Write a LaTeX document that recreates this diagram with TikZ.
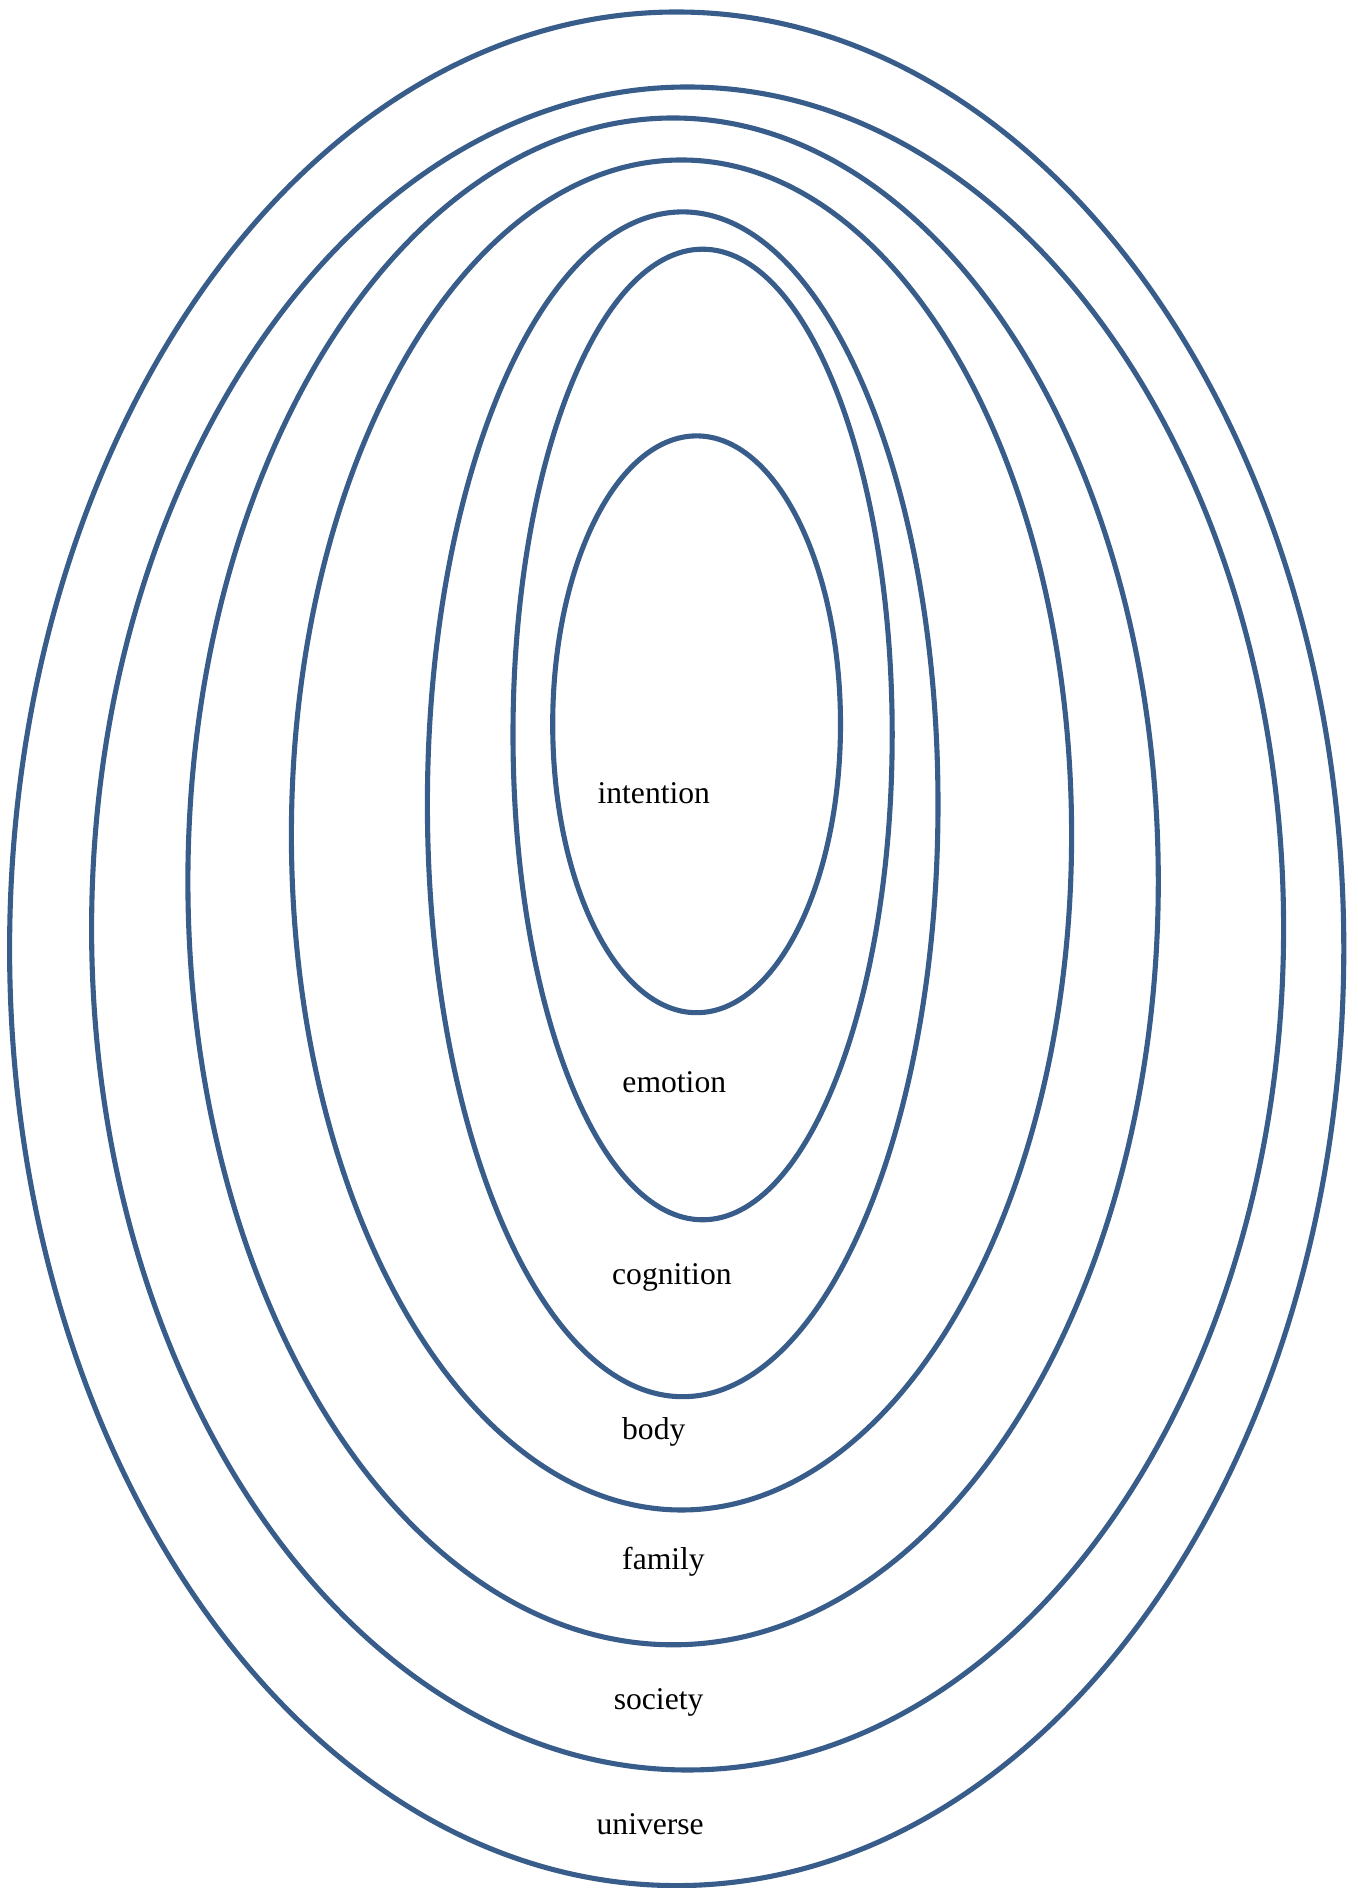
\documentclass[tikz,border=0pt]{standalone}
\usepackage{fontspec}
\setmainfont{Liberation Serif}
\usepackage{tikz}
\usetikzlibrary{positioning}
\definecolor{ringblue}{RGB}{56,93,138}
\tikzset{
  ring/.style={draw=ringblue, line width=1.45pt},
  lbl/.style={font=\fontsize{9}{11}\selectfont, text=black, inner sep=1pt}
}

\begin{document}
\begin{tikzpicture}[x=0.1mm, y=0.1mm]
  \useasboundingbox (0,0) rectangle (1357,1888);

  % rings, outermost first
  \draw[ring] (676.7,939.2) ellipse [x radius=667.1, y radius=936.8];
  \draw[ring] (687.6,959.5) ellipse [x radius=596.0, y radius=841.5];
  \draw[ring] (673.1,1006.6) ellipse [x radius=485.2, y radius=763.4];
  \draw[ring] (681.5,1053.0) ellipse [x radius=390.1, y radius=675.0];
  \draw[ring] (682.7,1083.7) ellipse [x radius=255.3, y radius=592.4];
  \draw[ring] (702.6,1153.5) ellipse [x radius=189.6, y radius=485.3];
  \draw[ring] (696.6,1163.7) ellipse [x radius=143.9, y radius=288.4];

  % labels
  \node[lbl] (intention) at (653.8,1094.5) {intention};
  \node[lbl] (emotion) at (674.3,805.5) {emotion};
  \node[lbl] (cognition) at (671.9,610.4) {cognition};
  \node[lbl] (body) at (653.8,456.3) {body};
  \node[lbl] (family) at (663.5,326.3) {family};
  \node[lbl] (society) at (658.6,185.4) {society};
  \node[lbl] (universe) at (650.2,63.8) {universe};
\end{tikzpicture}
\end{document}
